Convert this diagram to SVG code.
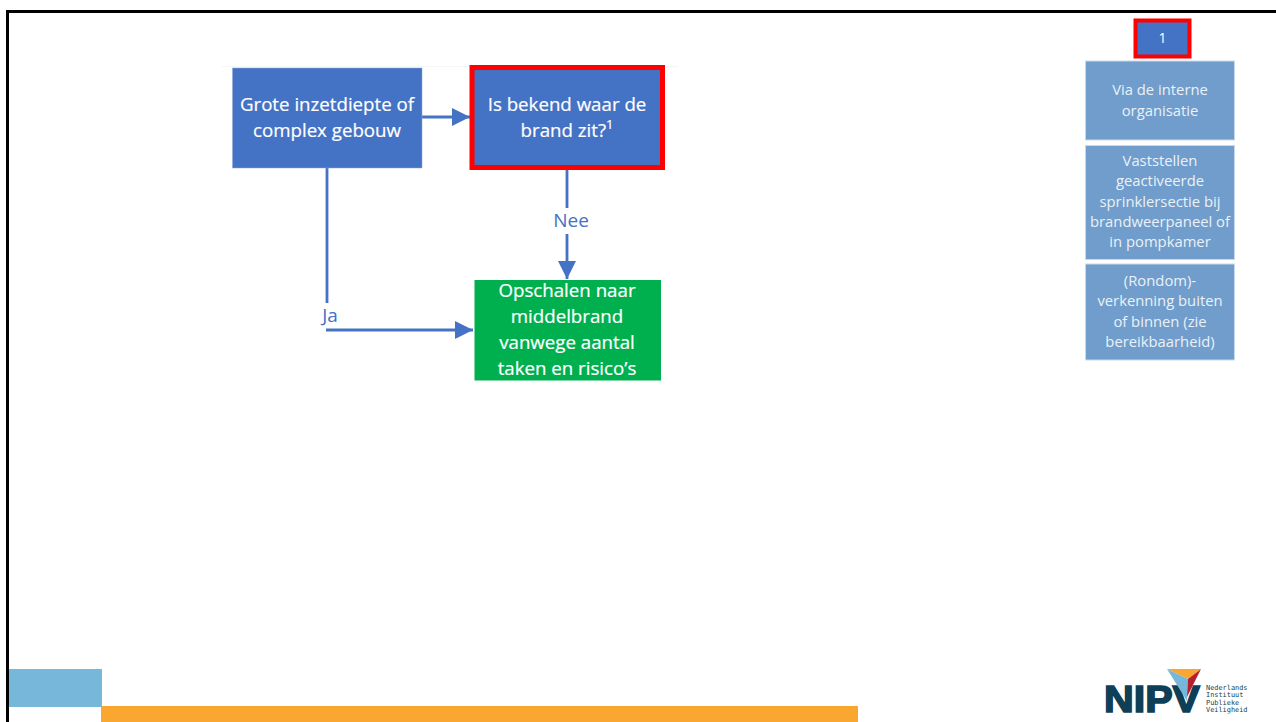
<svg xmlns="http://www.w3.org/2000/svg" width="1276" height="722" viewBox="0 0 1276 722">
<style>
.t{font-family:"Open Sans","Noto Sans","Liberation Sans",sans-serif;text-anchor:middle;fill:#fff}
.m{font-size:18.700px;stroke:#fff;stroke-width:0.2px}
.s{font-size:14.800px;fill:#eaf1f8}
.l{font-family:"Open Sans","Noto Sans","Liberation Sans",sans-serif;font-size:19px;fill:#4472c4;text-anchor:middle}
.c{fill:none;stroke:#4472c4;stroke-width:2.800}
.side{fill:#709dcb;stroke:#c9d9ea;stroke-width:1}
.lg{font-family:"DejaVu Sans Mono",monospace;font-size:6.900px;fill:#0f3f56}
</style>
<defs>
<marker id="a" markerUnits="userSpaceOnUse" markerWidth="20" markerHeight="20" refX="18" refY="9" orient="auto"><path d="M0 0L18 9L0 18Z" fill="#4472c4"/></marker>
</defs>
<g id="frame">
<path d="M7.500 722V11.500H1276" fill="none" stroke="#000" stroke-width="3"/>
<path d="M222 66.500H678" fill="none" stroke="#f6f6f6" stroke-width="1"/>
<rect x="9" y="669" width="93" height="38" fill="#77b7da"/>
<rect x="101" y="706" width="757" height="16" fill="#f9a731"/>
</g>
<g id="connectors">
<path class="c" d="M422 117H470" marker-end="url(#a)"/>
<path class="c" d="M567 170V208"/>
<path class="c" d="M567 234V279" marker-end="url(#a)"/>
<path class="c" d="M327 168V303"/>
<path class="c" d="M326 330H473" marker-end="url(#a)"/>
<text class="l" x="571" y="227">Nee</text>
<text class="l" x="330" y="322">Ja</text>
</g>
<g id="node-inzetdiepte">
<rect x="232.500" y="68" width="189.500" height="100" fill="#4472c4" stroke="#8ea9db" stroke-width="0.500"/>
<text class="t m" x="327" y="111">Grote inzetdiepte of</text>
<text class="t m" x="327" y="137">complex gebouw</text>
</g>
<g id="node-bekend">
<rect x="472" y="67.500" width="190.500" height="100" fill="#4472c4" stroke="#f00" stroke-width="5"/>
<text class="t m" x="567" y="111">Is bekend waar de</text>
<text class="t m" x="567" y="137">brand zit?<tspan font-size="13" dy="-8">1</tspan></text>
</g>
<g id="node-opschalen">
<rect x="474.500" y="280" width="186.500" height="100.500" fill="#00b04f"/>
<text class="t m" x="567" y="297">Opschalen naar</text>
<text class="t m" x="567" y="323">middelbrand</text>
<text class="t m" x="567" y="349">vanwege aantal</text>
<text class="t m" x="567" y="375">taken en risico’s</text>
</g>
<g id="node-1">
<rect x="1135.500" y="20.500" width="54" height="36" fill="#4472c4" stroke="#f00" stroke-width="4"/>
<text class="t" font-size="14" x="1162.500" y="43">1</text>
</g>
<g id="node-intern">
<rect class="side" x="1085.500" y="61" width="149" height="79"/>
<text class="t s" x="1160" y="95">Via de interne</text>
<text class="t s" x="1160" y="116">organisatie</text>
</g>
<g id="node-sprinkler">
<rect class="side" x="1085.500" y="145.500" width="149" height="114"/>
<text class="t s" x="1160" y="166">Vaststellen</text>
<text class="t s" x="1160" y="186">geactiveerde</text>
<text class="t s" x="1160" y="207">sprinklersectie bij</text>
<text class="t s" x="1160" y="227">brandweerpaneel of</text>
<text class="t s" x="1160" y="247">in pompkamer</text>
</g>
<g id="node-verkenning">
<rect class="side" x="1085.500" y="264" width="149" height="96"/>
<text class="t s" x="1160" y="286">(Rondom)-</text>
<text class="t s" x="1160" y="306">verkenning buiten</text>
<text class="t s" x="1160" y="327">of binnen (zie</text>
<text class="t s" x="1160" y="347">bereikbaarheid)</text>
</g>
<g id="logo">
<text x="1104" y="712" font-family="Liberation Sans,sans-serif" font-weight="700" font-size="37" fill="#0f3f56" stroke="#0f3f56" stroke-width="1.600" textLength="96" lengthAdjust="spacingAndGlyphs">NIPV</text>
<path d="M1167 669H1201L1188 679Z" fill="#f9a731"/>
<path d="M1167 669L1188 679L1187 701Z" fill="#77b7da"/>
<path d="M1201 669L1188 679L1187 697Z" fill="#b5202e"/>
<text class="lg" x="1206" y="690">Nederlands</text>
<text class="lg" x="1206" y="697">Instituut</text>
<text class="lg" x="1206" y="705">Publieke</text>
<text class="lg" x="1206" y="712">Veiligheid</text>
</g>
</svg>
